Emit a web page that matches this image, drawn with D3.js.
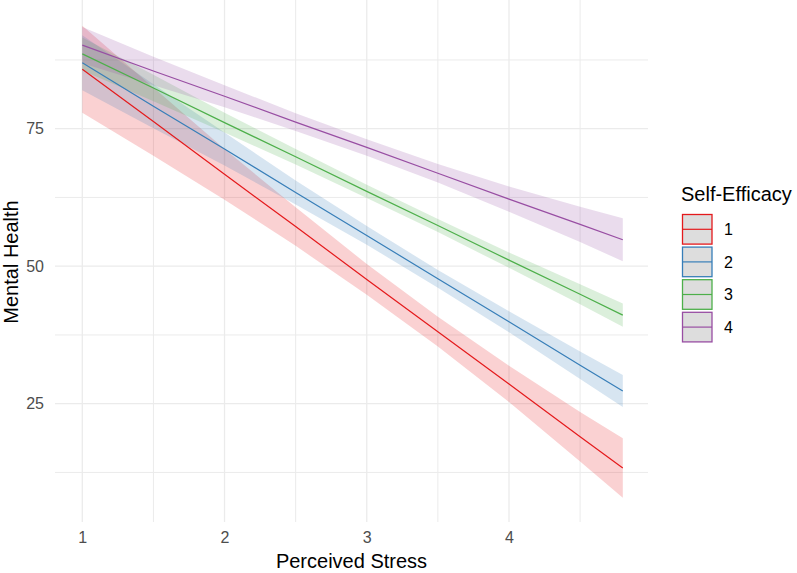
<!DOCTYPE html>
<html>
<head>
<meta charset="utf-8">
<script src="https://cdn.jsdelivr.net/npm/d3@7"></script>
<style>
  html, body { margin: 0; padding: 0; background: #fff; }
  svg { display: block; font-family: "Liberation Sans", Arial, sans-serif; }
</style>
</head>
<body>
<svg id="chart" width="797" height="573"></svg>
<script>
// ---- data ----
const groups = ["1", "2", "3", "4"];
const colors = ["#E41A1C", "#377EB8", "#4DAF4A", "#984EA3"];
const stress = [1, 1.5, 2, 2.5, 3, 3.5, 4, 4.5, 4.8];

const fit1 = [85.8, 76.3, 66.7, 57.2, 47.6, 38.1, 28.6, 19.0, 13.3];
const lo1  = [77.9, 70.1, 62.1, 53.7, 44.8, 35.4, 25.3, 14.5, 7.9];
const hi1  = [93.7, 82.5, 71.3, 60.7, 50.4, 40.8, 31.9, 23.5, 18.7];

const fit2 = [87.0, 79.1, 71.3, 63.4, 55.6, 47.7, 39.9, 32.0, 27.3];
const lo2  = [82.0, 75.1, 68.3, 61.2, 53.9, 46.1, 38.0, 29.5, 24.4];
const hi2  = [92.0, 83.1, 74.3, 65.6, 57.3, 49.3, 41.8, 34.5, 30.2];

const fit3 = [88.6, 82.4, 76.1, 69.9, 63.6, 57.4, 51.1, 44.9, 41.1];
const lo3  = [85.6, 80.0, 74.3, 68.5, 62.4, 56.2, 49.7, 43.1, 39.0];
const hi3  = [91.6, 84.8, 77.9, 71.3, 64.8, 58.6, 52.5, 46.7, 43.2];

const fit4 = [90.2, 85.5, 80.9, 76.2, 71.6, 66.9, 62.2, 57.6, 54.8];
const lo4  = [86.9, 82.9, 78.9, 74.6, 70.1, 65.2, 59.9, 54.4, 50.9];
const hi4  = [93.5, 88.1, 82.9, 77.8, 73.1, 68.6, 64.5, 60.8, 58.7];

const xMajor = [1, 2, 3, 4];
const xMinor = [1.5, 2.5, 3.5, 4.5];
const yMajor = [25, 50, 75];
const yMinor = [12.5, 37.5, 62.5, 87.5];

const xTitle = "Perceived Stress";
const yTitle = "Mental Health";
const legendTitle = "Self-Efficacy";

// ---- layout ----
const svg = d3.select("#chart");
const panel = { left: 55, right: 648, top: 0, bottom: 522 };

const x = d3.scaleLinear().domain([1, 4]).range([82.3, 509]);
const y = d3.scaleLinear().domain([25, 75]).range([403.7, 128.7]);

const series = [
  { fit: fit1, lo: lo1, hi: hi1 },
  { fit: fit2, lo: lo2, hi: hi2 },
  { fit: fit3, lo: lo3, hi: hi3 },
  { fit: fit4, lo: lo4, hi: hi4 }
];

// gridlines
const grid = svg.append("g");
grid.selectAll(".xmin").data(xMinor).join("line")
  .attr("x1", d => x(d)).attr("x2", d => x(d))
  .attr("y1", panel.top).attr("y2", panel.bottom)
  .attr("stroke", "#EBEBEB").attr("stroke-width", 1);
grid.selectAll(".xmaj").data(xMajor).join("line")
  .attr("x1", d => x(d)).attr("x2", d => x(d))
  .attr("y1", panel.top).attr("y2", panel.bottom)
  .attr("stroke", "#EBEBEB").attr("stroke-width", 1.3);
grid.selectAll(".ymin").data(yMinor).join("line")
  .attr("x1", panel.left).attr("x2", panel.right)
  .attr("y1", d => y(d)).attr("y2", d => y(d))
  .attr("stroke", "#EBEBEB").attr("stroke-width", 1);
grid.selectAll(".ymaj").data(yMajor).join("line")
  .attr("x1", panel.left).attr("x2", panel.right)
  .attr("y1", d => y(d)).attr("y2", d => y(d))
  .attr("stroke", "#EBEBEB").attr("stroke-width", 1.3);

// ribbons and lines
const area = d3.area()
  .x(d => x(d.x)).y0(d => y(d.lo)).y1(d => y(d.hi));
const line = d3.line()
  .x(d => x(d.x)).y(d => y(d.fit));

series.forEach((s, i) => {
  const pts = stress.map((sx, j) => ({ x: sx, fit: s.fit[j], lo: s.lo[j], hi: s.hi[j] }));
  svg.append("path").datum(pts)
    .attr("d", area)
    .attr("fill", colors[i]).attr("fill-opacity", 0.2).attr("stroke", "none");
});
series.forEach((s, i) => {
  const pts = stress.map((sx, j) => ({ x: sx, fit: s.fit[j] }));
  svg.append("path").datum(pts)
    .attr("d", line)
    .attr("fill", "none").attr("stroke", colors[i]).attr("stroke-width", 1.2);
});

// axes (tick labels only, like theme_minimal)
const xAxis = d3.axisBottom(x).tickValues(xMajor).tickSize(0).tickPadding(0).tickFormat(d3.format("d"));
const gx = svg.append("g").attr("transform", `translate(0, 532)`).call(xAxis);
gx.select(".domain").remove();
gx.selectAll("text").attr("fill", "#4D4D4D").attr("font-size", 16)
  .attr("font-family", "Liberation Sans, Arial, sans-serif").attr("dy", "0.71em");

const yAxis = d3.axisLeft(y).tickValues(yMajor).tickSize(0).tickPadding(0).tickFormat(d3.format("d"));
const gy = svg.append("g").attr("transform", `translate(44, 0)`).call(yAxis);
gy.select(".domain").remove();
gy.selectAll("text").attr("fill", "#4D4D4D").attr("font-size", 16)
  .attr("font-family", "Liberation Sans, Arial, sans-serif");

// axis titles
svg.append("text")
  .attr("x", (panel.left + panel.right) / 2).attr("y", 568)
  .attr("text-anchor", "middle").attr("font-size", 20).attr("fill", "#000")
  .text(xTitle);
svg.append("text")
  .attr("transform", `translate(18, 262) rotate(-90)`)
  .attr("text-anchor", "middle").attr("font-size", 20).attr("fill", "#000")
  .text(yTitle);

// legend
const lg = svg.append("g").attr("transform", "translate(681, 0)");
lg.append("text").attr("x", 0).attr("y", 201)
  .attr("font-size", 20).attr("fill", "#000").text(legendTitle);
const keyH = 32.6, keyTop = 213.5, keyW = 31;
groups.forEach((g, i) => {
  const ky = keyTop + i * keyH;
  lg.append("rect")
    .attr("x", 1.5).attr("y", ky + 1).attr("width", keyW - 1.5).attr("height", keyH - 3)
    .attr("fill", "#DDDDDD").attr("stroke", colors[i]).attr("stroke-width", 1.3);
  lg.append("line")
    .attr("x1", 1.5).attr("x2", keyW)
    .attr("y1", ky + keyH / 2 - 0.5).attr("y2", ky + keyH / 2 - 0.5)
    .attr("stroke", colors[i]).attr("stroke-width", 1.2);
  lg.append("text")
    .attr("x", 43).attr("y", ky + keyH / 2 - 0.5).attr("dy", "0.36em")
    .attr("font-size", 16).attr("fill", "#000").text(g);
});
</script>
</body>
</html>
